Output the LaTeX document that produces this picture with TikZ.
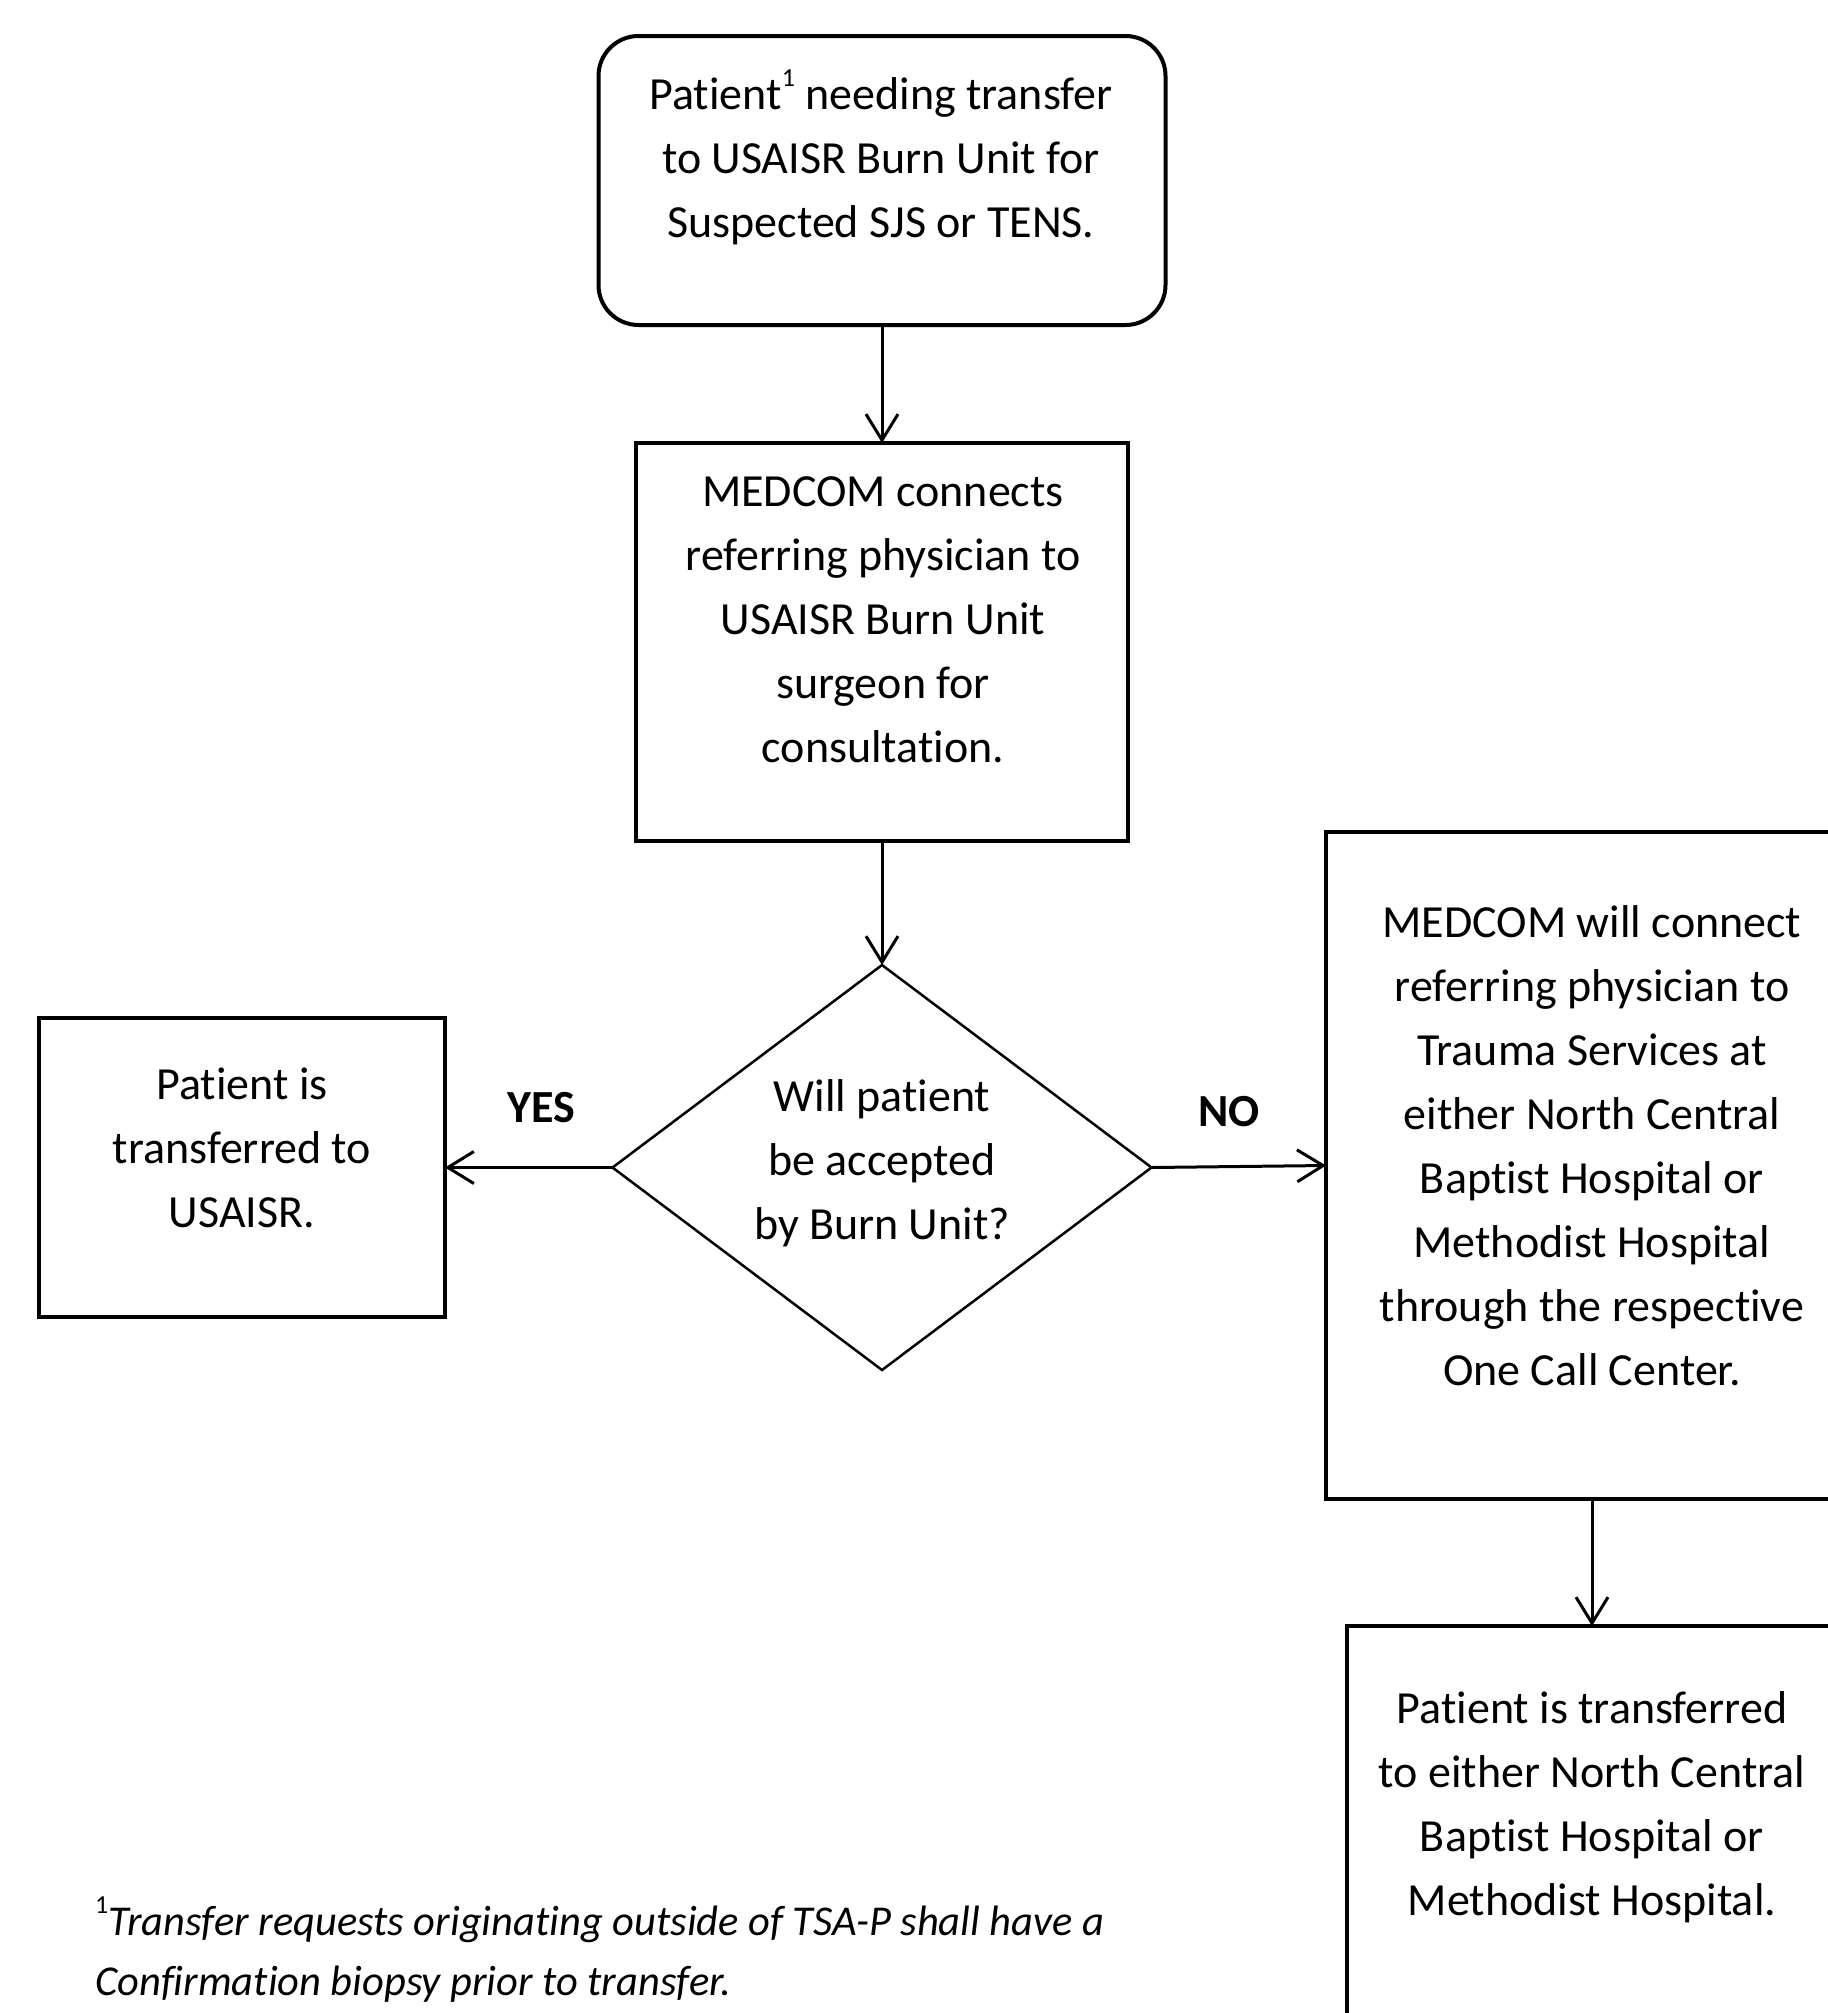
\documentclass[tikz,border=0pt]{standalone}
\usepackage{fontspec}
\setmainfont{Carlito}[Ligatures=NoCommon]
\usetikzlibrary{shapes.geometric,arrows.meta}
\newcommand{\supone}{\raisebox{0.5em}{\fontsize{26}{26}\selectfont\upshape 1}}
\begin{document}
\begin{tikzpicture}[x=1pt,y=-1pt,
  shapebox/.style={draw, line width=4pt, inner sep=0pt, outer sep=0pt},
  decision/.style={draw, diamond, line width=2.5pt, inner sep=0pt, outer sep=0pt},
  txt/.style={align=center, inner sep=0pt, font=\fontsize{46}{64}\selectfont},
  lbl/.style={inner sep=0pt, font=\fontsize{46}{56}\selectfont\bfseries},
  note/.style={align=left, inner sep=0pt, font=\fontsize{42.5}{60}\selectfont\itshape},
  flow/.style={line width=3pt, -{Straight Barb[length=26pt,width=32pt,line width=3pt]}}]
\useasboundingbox (0,0) rectangle (1828,2013);
\fill[white] (0,0) rectangle (1828,2013);
\begin{scope}
\clip (0,0) rectangle (1828,2013);
% shapes
\node[shapebox, rounded corners=40pt, minimum width=567pt, minimum height=289pt] (start) at (882,180.5) {};
\node[shapebox, minimum width=492pt, minimum height=398pt] (medcom) at (882,642) {};
\node[decision, minimum width=539pt, minimum height=405pt] (accept) at (882,1167.5) {};
\node[shapebox, minimum width=406pt, minimum height=299pt] (yesbox) at (242,1167.5) {};
\node[shapebox, minimum width=532pt, minimum height=667pt] (nobox) at (1592,1165.5) {};
\node[shapebox, minimum width=490pt, minimum height=474pt] (final) at (1592,1863) {};
% texts
\node[txt] (t1) at (881,157) {Patient\supone{} needing transfer\\to USAISR Burn Unit for\\Suspected SJS or TENS.};
\node[txt] (t2) at (883,620) {MEDCOM connects\\referring physician to\\USAISR Burn Unit\\surgeon for\\consultation.};
\node[txt] (t3) at (882,1163) {Will patient\\be accepted\\by Burn Unit?};
\node[txt] (t4) at (242,1148) {Patient is\\transferred to\\USAISR.};
\node[txt] (t5) at (1592,1146) {MEDCOM will connect\\referring physician to\\Trauma Services at\\either North Central\\Baptist Hospital or\\Methodist Hospital\\through the respective\\One Call Center.};
\node[txt] (t6) at (1592,1807) {Patient is transferred\\to either North Central\\Baptist Hospital or\\Methodist Hospital.};
\node[lbl] (yes) at (541,1108) {YES};
\node[lbl] (no) at (1229,1112) {NO};
\node[note, anchor=north west] (fn) at (95,1897) {\supone{}Transfer requests originating outside of TSA-P shall have a\\Confirmation biopsy prior to transfer.};
% connectors
\draw[flow] (start.south) -- (medcom.north);
\draw[flow] (medcom.south) -- (accept.north);
\draw[flow] (accept.west) -- (yesbox.east);
\draw[flow] (accept.east) -- (nobox.west);
\draw[flow] (nobox.south) -- (final.north);
\end{scope}
\end{tikzpicture}
\end{document}
